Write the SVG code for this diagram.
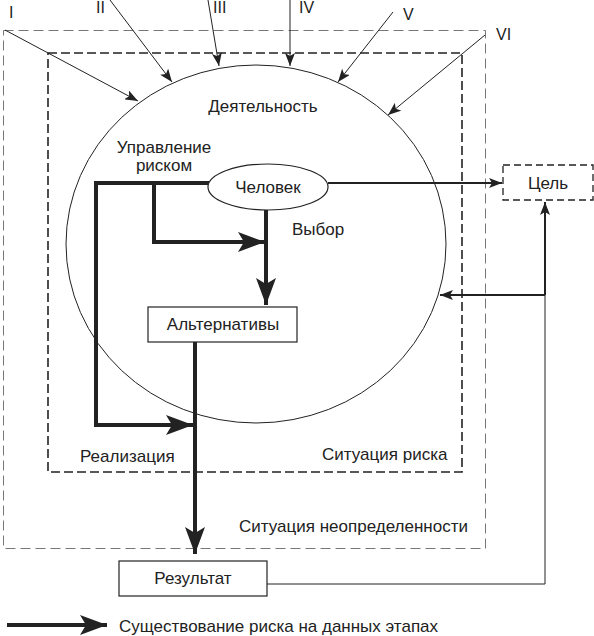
<svg xmlns="http://www.w3.org/2000/svg" width="594" height="636" viewBox="0 0 594 636">
<style>
text{font-family:"Liberation Sans",Arial,sans-serif;font-size:17px;fill:#222}
.num{font-size:16px}
.thin{stroke:#222;stroke-width:1;fill:none}
.med{stroke:#222;stroke-width:2;fill:none}
.thick{stroke:#222;stroke-width:4;fill:none}
.box{fill:#fff;stroke:#222;stroke-width:1.2}
</style>
<defs>
<marker id="a" markerUnits="userSpaceOnUse" markerWidth="14" markerHeight="10" refX="13" refY="5" orient="auto">
<path d="M0,0 L13,5 L0,10 L3,5 z" fill="#222"/>
</marker>
<marker id="A" markerUnits="userSpaceOnUse" markerWidth="28" markerHeight="20" refX="27" refY="10" orient="auto">
<path d="M0,0 L27,10 L0,20 L6,10 z" fill="#222"/>
</marker>
</defs>
<g id="frame-uncertainty">
<rect x="3.5" y="30.5" width="482" height="518" fill="none" stroke="#777" stroke-width="1" stroke-dasharray="10 5"/>
<text x="239" y="532">Ситуация неопределенности</text>
</g>
<g id="frame-risk">
<rect x="48" y="53" width="414" height="419" fill="none" stroke="#222" stroke-width="1.6" stroke-dasharray="9 4"/>
<text x="322" y="460">Ситуация риска</text>
<text x="80" y="462">Реализация</text>
</g>
<g id="activity">
<ellipse cx="256" cy="244" rx="190" ry="179" fill="none" stroke="#222" stroke-width="1"/>
<text x="263" y="112" text-anchor="middle">Деятельность</text>
<text x="164" y="153" text-anchor="middle">Управление</text>
<text x="164" y="171" text-anchor="middle">риском</text>
<text x="292" y="235">Выбор</text>
</g>
<g id="numerals">
<text class="num" x="9" y="18">I</text>
<text class="num" x="96" y="13">II</text>
<text class="num" x="213" y="13">III</text>
<text class="num" x="299" y="13">IV</text>
<text class="num" x="403" y="20">V</text>
<text class="num" x="496" y="40">VI</text>
</g>
<g id="connectors">
<line class="thin" x1="5" y1="30" x2="138" y2="101" marker-end="url(#a)"/>
<line class="thin" x1="110" y1="0" x2="172" y2="82" marker-end="url(#a)"/>
<line class="thin" x1="208" y1="0" x2="219" y2="66" marker-end="url(#a)"/>
<line class="thin" x1="290" y1="0" x2="290" y2="66" marker-end="url(#a)"/>
<line class="thin" x1="393" y1="12" x2="338" y2="82" marker-end="url(#a)"/>
<line class="thin" x1="485" y1="35" x2="388" y2="115" marker-end="url(#a)"/>
<path class="thick" d="M209,183 H96 V425 H193" marker-end="url(#A)"/>
<path class="thick" d="M154,183 V242 H265" marker-end="url(#A)"/>
<path class="thick" d="M266,210 V305" marker-end="url(#A)"/>
<path class="thick" d="M195,342 V554" marker-end="url(#A)"/>
<path class="med" d="M328,183 H502" marker-end="url(#a)"/>
<path class="med" d="M545,295 H440" marker-end="url(#a)"/>
<path class="med" d="M545,295 V202" marker-end="url(#a)"/>
<path class="thin" d="M267,584 H545 V295"/>
<path class="thick" d="M7,625 H107" marker-end="url(#A)"/>
</g>
<g id="chelovek">
<ellipse cx="268" cy="187" rx="60" ry="23" fill="#fff" stroke="#222" stroke-width="1.2"/>
<text x="268" y="193" text-anchor="middle">Человек</text>
</g>
<g id="alternativy">
<rect class="box" x="148" y="307" width="149" height="35"/>
<text x="223" y="330" text-anchor="middle">Альтернативы</text>
</g>
<g id="cel">
<rect x="503" y="165" width="90" height="35" fill="#fff" stroke="#222" stroke-width="1.3" stroke-dasharray="7 4"/>
<text x="548" y="189" text-anchor="middle">Цель</text>
</g>
<g id="rezultat">
<rect class="box" x="119" y="561" width="148" height="35"/>
<text x="193" y="584" text-anchor="middle">Результат</text>
</g>
<g id="legend">
<text x="119" y="632">Существование риска на данных этапах</text>
</g>
</svg>
